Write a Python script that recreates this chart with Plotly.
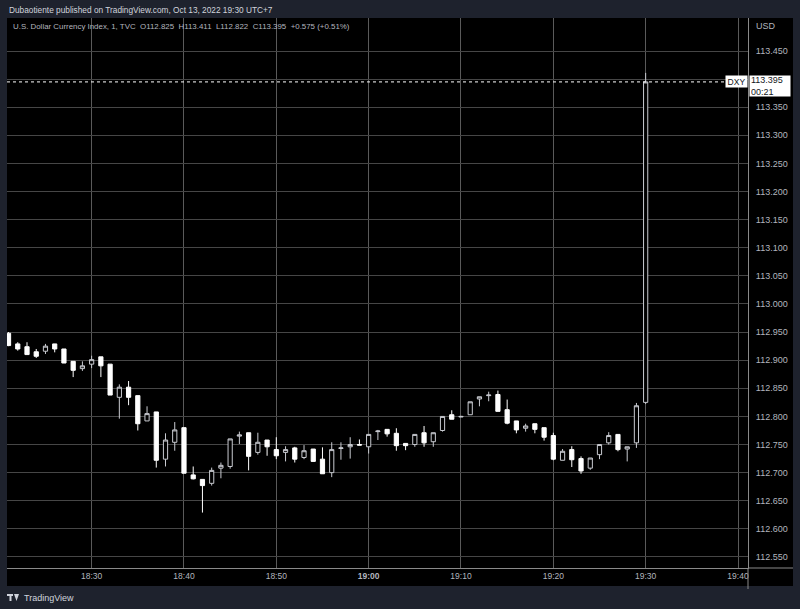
import plotly.graph_objects as go

# ---------------- data ----------------
times = ["18:21","18:22","18:23","18:24","18:25","18:26","18:27","18:28","18:29","18:30",
         "18:31","18:32","18:33","18:34","18:35","18:36","18:37","18:38","18:39","18:40",
         "18:41","18:42","18:43","18:44","18:45","18:46","18:47","18:48","18:49","18:50",
         "18:51","18:52","18:53","18:54","18:55","18:56","18:57","18:58","18:59","19:00",
         "19:01","19:02","19:03","19:04","19:05","19:06","19:07","19:08","19:09","19:10",
         "19:11","19:12","19:13","19:14","19:15","19:16","19:17","19:18","19:19","19:20",
         "19:21","19:22","19:23","19:24","19:25","19:26","19:27","19:28","19:29","19:30"]
opens = [112.948,112.929,112.924,112.915,112.916,112.929,112.920,112.898,112.885,112.893,
         112.906,112.893,112.834,112.852,112.837,112.792,112.808,112.724,112.754,112.780,
         112.696,112.688,112.681,112.708,112.711,112.765,112.771,112.736,112.758,112.741,
         112.736,112.744,112.727,112.742,112.724,112.700,112.743,112.746,112.750,112.746,
         112.773,112.777,112.770,112.752,112.750,112.771,112.755,112.775,112.803,112.799,
         112.803,112.831,112.837,112.839,112.812,112.792,112.779,112.787,112.780,112.766,
         112.722,112.741,112.725,112.708,112.732,112.753,112.768,112.742,112.753,112.825]
highs = [112.950,112.932,112.932,112.920,112.929,112.929,112.920,112.898,112.898,112.908,
         112.906,112.893,112.857,112.863,112.837,112.818,112.808,112.770,112.790,112.780,
         112.711,112.688,112.709,112.718,112.760,112.773,112.771,112.771,112.758,112.763,
         112.747,112.746,112.749,112.742,112.745,112.754,112.754,112.763,112.759,112.768,
         112.776,112.777,112.779,112.752,112.768,112.783,112.771,112.800,112.811,112.801,
         112.826,112.835,112.844,112.846,112.830,112.792,112.787,112.787,112.780,112.771,
         112.742,112.747,112.729,112.726,112.750,112.772,112.768,112.746,112.824,113.411]
lows = [112.925,112.917,112.910,112.904,112.911,112.914,112.895,112.870,112.881,112.886,
        112.870,112.838,112.796,112.820,112.775,112.792,112.709,112.711,112.739,112.699,
        112.688,112.629,112.677,112.690,112.707,112.751,112.704,112.732,112.730,112.724,
        112.720,112.718,112.724,112.720,112.698,112.692,112.723,112.725,112.749,112.734,
        112.758,112.764,112.739,112.740,112.746,112.746,112.746,112.773,112.795,112.799,
        112.803,112.818,112.827,112.809,112.786,112.770,112.773,112.770,112.757,112.722,
        112.722,112.710,112.698,112.705,112.724,112.750,112.738,112.720,112.744,112.822]
closes = [112.926,112.920,112.910,112.907,112.925,112.920,112.895,112.882,112.890,112.901,
          112.890,112.838,112.852,112.834,112.787,112.805,112.722,112.758,112.776,112.699,
          112.689,112.677,112.704,112.713,112.760,112.767,112.729,112.754,112.746,112.730,
          112.741,112.724,112.739,112.720,112.698,112.741,112.744,112.750,112.749,112.768,
          112.774,112.769,112.748,112.748,112.768,112.753,112.771,112.800,112.795,112.800,
          112.826,112.835,112.838,112.809,112.788,112.776,112.783,112.777,112.763,112.724,
          112.738,112.723,112.703,112.726,112.750,112.766,112.741,112.746,112.819,113.395]

tick_times = ["18:30","18:40","18:50","19:00","19:10","19:20","19:30","19:40"]
tick_labels = ["18:30","18:40","18:50","<b>19:00</b>","19:10","19:20","19:30","19:40"]
price_ticks = [112.55,112.60,112.65,112.70,112.75,112.80,112.85,112.90,112.95,113.00,
               113.05,113.10,113.15,113.20,113.25,113.30,113.35,113.40,113.45]
price_labels = ["112.550","112.600","112.650","112.700","112.750","112.800","112.850",
                "112.900","112.950","113.000","113.050","113.100","113.150","113.200",
                "113.250","113.300","113.350","","113.450"]   # 113.400 hidden by price tag
last_price = 113.395
day = "2022-10-13 "

# ---------------- geometry helpers ----------------
W, H = 800, 609
L, R, T, B = 7, 748, 18, 568   # plot area in pixels
def px(x):  # pixel x -> paper
    return (x - L) / (R - L)
def py(y):  # pixel y -> paper
    return (B - y) / (B - T)

FONT = "Liberation Sans, Arial, sans-serif"
TXT = "#b2b5be"

fig = go.Figure()
fig.add_trace(go.Candlestick(
    x=[day + t for t in times], open=opens, high=highs, low=lows, close=closes,
    increasing=dict(line=dict(color="#c9cbd1", width=1), fillcolor="#000000"),
    decreasing=dict(line=dict(color="#ffffff", width=1), fillcolor="#ffffff"),
    whiskerwidth=0, hoverinfo="skip", showlegend=False,
))

shapes = [
    # black chart panel (plot + axes)
    dict(type="rect", xref="paper", yref="paper", x0=px(7), x1=px(793), y0=py(586), y1=py(18),
         fillcolor="#000000", line=dict(width=0), layer="below"),
    # price-axis separator extension through time axis
    dict(type="line", xref="paper", yref="paper", x0=1, x1=1, y0=py(568), y1=py(589),
         line=dict(color="#8a8a8a", width=1)),
    # time axis border continued under price axis
    dict(type="line", xref="paper", yref="paper", x0=1, x1=px(793), y0=0, y1=0,
         line=dict(color="#8a8a8a", width=1)),
    # last price dotted line
    dict(type="line", xref="paper", yref="y", x0=0, x1=px(725), y0=last_price, y1=last_price,
         line=dict(color="#ffffff", width=1, dash="dot")),
    # TradingView logo (approximate)
    dict(type="rect", xref="paper", yref="paper", x0=px(7), x1=px(13), y0=py(596), y1=py(594),
         fillcolor="#d1d4dc", line=dict(width=0)),
    dict(type="rect", xref="paper", yref="paper", x0=px(9.5), x1=px(11.5), y0=py(601), y1=py(594),
         fillcolor="#d1d4dc", line=dict(width=0)),
    dict(type="path", xref="paper", yref="paper",
         path=f"M {px(14)} {py(594)} L {px(19)} {py(594)} L {px(16.5)} {py(601)} Z",
         fillcolor="#d1d4dc", line=dict(width=0)),
]

annotations = [
    dict(text="Dubaotiente published on TradingView.com, Oct 13, 2022 19:30 UTC+7",
         xref="paper", yref="paper", x=px(7), y=py(9.5), xanchor="left", yanchor="middle",
         showarrow=False, font=dict(family=FONT, size=8.3, color="#d1d4dc")),
    dict(text="U.S. Dollar Currency Index, 1, TVC  O112.825  H113.411  L112.822  C113.395  +0.575 (+0.51%)",
         xref="paper", yref="paper", x=px(11), y=py(27), xanchor="left", yanchor="middle",
         showarrow=False, font=dict(family=FONT, size=7.9, color=TXT)),
    dict(text="USD", xref="paper", yref="paper", x=px(754), y=py(26), xanchor="left", yanchor="middle",
         showarrow=False, font=dict(family=FONT, size=9, color=TXT)),
    dict(text="DXY", xref="paper", yref="paper", x=px(736.5), y=py(82), xanchor="center", yanchor="middle",
         showarrow=False, bgcolor="#ffffff", borderpad=1, width=19, height=9,
         font=dict(family=FONT, size=8.5, color="#131722")),
    dict(text="113.395<br>00:21", xref="paper", yref="paper", x=px(749), y=py(86.5), xanchor="left",
         yanchor="middle", align="left", showarrow=False, bgcolor="#ffffff", borderpad=1,
         width=38, height=18,
         font=dict(family=FONT, size=9, color="#131722")),
    dict(text="TradingView", xref="paper", yref="paper", x=px(22), y=py(598), xanchor="left",
         yanchor="middle", showarrow=False, font=dict(family=FONT, size=9, color="#d1d4dc")),
]

fig.update_layout(
    width=W, height=H,
    margin=dict(l=L, r=W - R, t=T, b=H - B, pad=0),
    paper_bgcolor="#1e222d", plot_bgcolor="#000000",
    showlegend=False, shapes=shapes, annotations=annotations,
    boxgap=0.35, hovermode=False,
)
fig.update_xaxes(
    type="date", range=[day + "18:20:50", day + "19:41:05"],
    rangeslider=dict(visible=False),
    tickvals=[day + t for t in tick_times], ticktext=tick_labels,
    showgrid=True, gridcolor="#5a5a5a", gridwidth=1,
    showline=True, linecolor="#8a8a8a", linewidth=1,
    ticks="", zeroline=False,
    tickfont=dict(family=FONT, size=8.5, color=TXT),
)
fig.update_yaxes(
    side="right", range=[112.5304, 113.5087],
    tickvals=price_ticks, ticktext=price_labels,
    showgrid=True, gridcolor="#464646", gridwidth=1,
    showline=True, linecolor="#8a8a8a", linewidth=1,
    ticks="outside", ticklen=5, tickcolor="rgba(0,0,0,0)", zeroline=False,
    automargin=False,
    tickfont=dict(family=FONT, size=9, color=TXT),
)

fig.write_html(
    "out.html",
    config={"displayModeBar": False},
    post_script="document.body.style.margin='0';document.body.style.background='#1e222d';"
                "document.documentElement.style.overflow='hidden';",
)
